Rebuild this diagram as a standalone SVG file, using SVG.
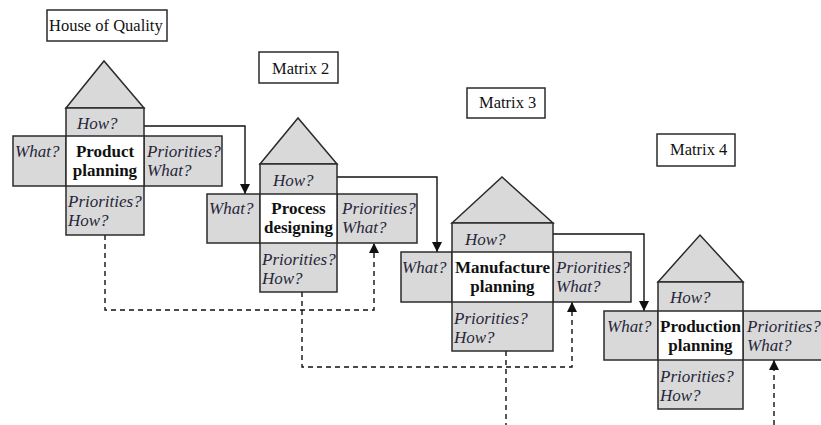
<svg xmlns="http://www.w3.org/2000/svg" width="821" height="425" viewBox="0 0 821 425">
<style>
.g{fill:#d9d9d9;stroke:#2b2b2b;stroke-width:1.5}
.w{fill:#fff;stroke:#2b2b2b;stroke-width:1.5}
.lb{fill:#fff;stroke:#2b2b2b;stroke-width:1.5}
.t{font-family:"Liberation Serif","Times New Roman",serif;fill:#111}
.lt{font-size:16.5px}
.i{font-size:17px;font-style:italic;fill:#26263a}
.b{font-size:17px;font-weight:bold;text-anchor:middle}
.c{fill:none;stroke:#111;stroke-width:1.4}
.d{fill:none;stroke:#111;stroke-width:1.4;stroke-dasharray:5 4}
</style>
<defs>
<marker id="ah" markerUnits="userSpaceOnUse" markerWidth="10" markerHeight="11" viewBox="0 0 10 11" refX="10" refY="5" orient="auto">
<path d="M0,0 L10,5 L0,10 Z" fill="#111"/>
</marker>
</defs>
<g id="label-hoq"><rect class="lb" x="47" y="10" width="120" height="31"/><text class="t lt" x="49" y="31">House of Quality</text></g>
<g id="label-m2"><rect class="lb" x="259" y="52" width="79" height="31"/><text class="t lt" x="272" y="74">Matrix 2</text></g>
<g id="label-m3"><rect class="lb" x="467" y="88" width="78" height="30"/><text class="t lt" x="479" y="108">Matrix 3</text></g>
<g id="label-m4"><rect class="lb" x="657" y="134" width="78" height="32"/><text class="t lt" x="670" y="155">Matrix 4</text></g>
<g id="connectors">
<polyline class="c" points="144,126 245,126 245,194" marker-end="url(#ah)"/>
<polyline class="c" points="337,177 437,177 437,252" marker-end="url(#ah)"/>
<polyline class="c" points="553,234 644,234 644,311" marker-end="url(#ah)"/>
<polyline class="d" points="105,235 105,310 374,310 374,243" marker-end="url(#ah)"/>
<polyline class="d" points="302,292 302,367 572,367 572,302" marker-end="url(#ah)"/>
<polyline class="d" points="506,351 506,425"/>
<polyline class="d" points="774,425 774,360" marker-end="url(#ah)"/>
</g>
<g id="matrix1">
<polygon class="g" points="66,108 104,61 144,108"/>
<rect class="g" x="13" y="136" width="209" height="50"/>
<rect class="g" x="66" y="108" width="78" height="127"/>
<rect class="w" x="66" y="136" width="78" height="50"/>
<text class="t i" x="77" y="129">How?</text>
<text class="t i" x="15" y="157">What?</text>
<text class="t b" x="105" y="157">Product</text>
<text class="t b" x="105" y="176">planning</text>
<text class="t i" x="147" y="157">Priorities?</text>
<text class="t i" x="147" y="176">What?</text>
<text class="t i" x="68" y="207">Priorities?</text>
<text class="t i" x="68" y="226">How?</text>
</g>
<g id="matrix2">
<polygon class="g" points="260,164 298,118 337,164"/>
<rect class="g" x="207" y="194" width="210" height="49"/>
<rect class="g" x="260" y="164" width="77" height="128"/>
<rect class="w" x="260" y="194" width="77" height="49"/>
<text class="t i" x="273" y="186">How?</text>
<text class="t i" x="209" y="214">What?</text>
<text class="t b" x="298.5" y="214">Process</text>
<text class="t b" x="298.5" y="233">designing</text>
<text class="t i" x="342" y="214">Priorities?</text>
<text class="t i" x="342" y="233">What?</text>
<text class="t i" x="262" y="265">Priorities?</text>
<text class="t i" x="262" y="284">How?</text>
</g>
<g id="matrix3">
<polygon class="g" points="452,223 502,177 553,223"/>
<rect class="g" x="401" y="252" width="230" height="50"/>
<rect class="g" x="452" y="223" width="101" height="128"/>
<rect class="w" x="452" y="252" width="101" height="50"/>
<text class="t i" x="465" y="245">How?</text>
<text class="t i" x="402" y="273">What?</text>
<text class="t b" x="502.5" y="273">Manufacture</text>
<text class="t b" x="502.5" y="292">planning</text>
<text class="t i" x="556" y="273">Priorities?</text>
<text class="t i" x="556" y="292">What?</text>
<text class="t i" x="454" y="324">Priorities?</text>
<text class="t i" x="454" y="343">How?</text>
</g>
<g id="matrix4">
<polygon class="g" points="658,282 700,235 743,282"/>
<rect class="g" x="604" y="311" width="222" height="49"/>
<rect class="g" x="658" y="282" width="85" height="127"/>
<rect class="w" x="658" y="311" width="85" height="49"/>
<text class="t i" x="670" y="303">How?</text>
<text class="t i" x="607" y="332">What?</text>
<text class="t b" x="700.5" y="332">Production</text>
<text class="t b" x="700.5" y="351">planning</text>
<text class="t i" x="747" y="332">Priorities?</text>
<text class="t i" x="747" y="351">What?</text>
<text class="t i" x="660" y="382">Priorities?</text>
<text class="t i" x="660" y="401">How?</text>
</g>
</svg>
